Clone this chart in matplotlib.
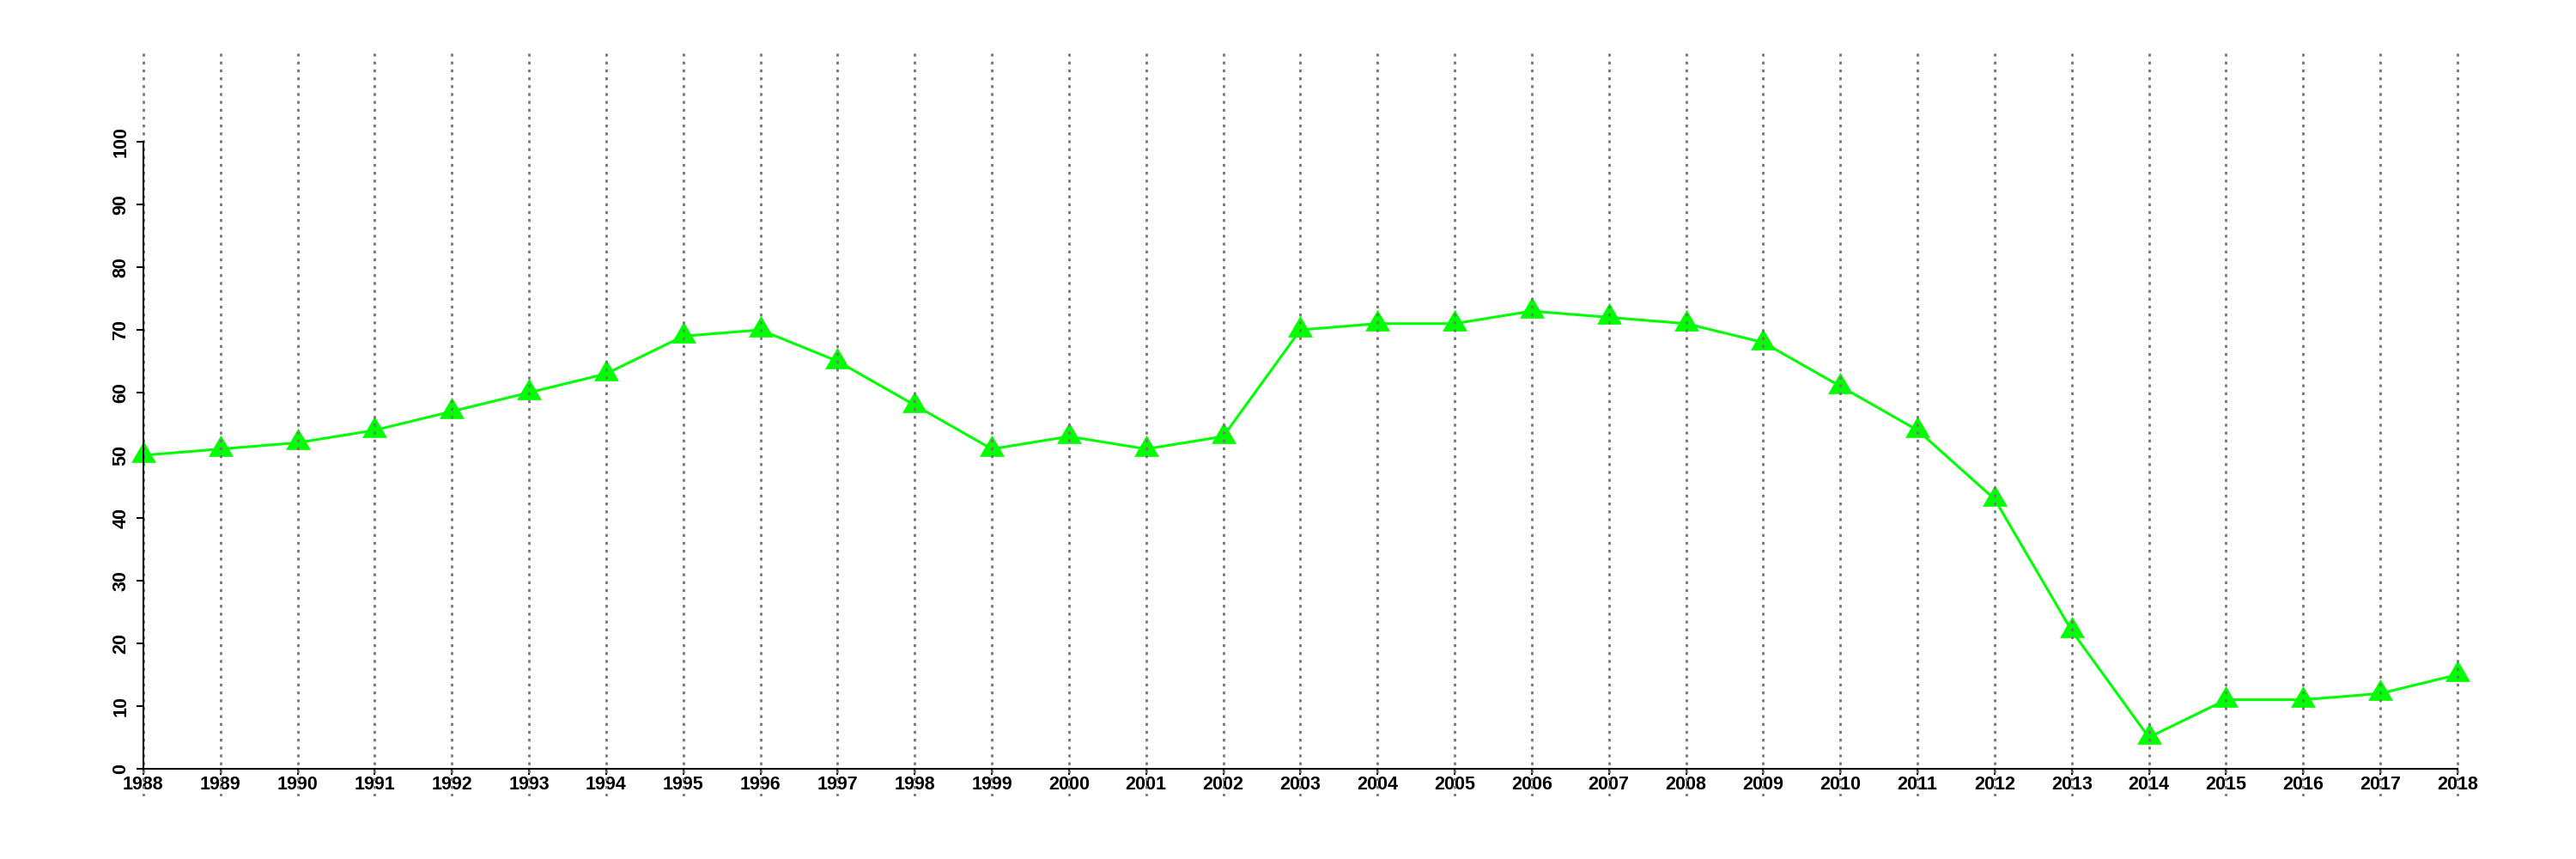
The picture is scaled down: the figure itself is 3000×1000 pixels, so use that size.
import matplotlib
matplotlib.use("Agg")
import matplotlib.pyplot as plt

years = list(range(1988, 2019))
values = [50, 51, 52, 54, 57, 60, 63, 69, 70, 65, 58, 51, 53, 51, 53,
          70, 71, 71, 73, 72, 71, 68, 61, 54, 43, 22, 5, 11, 11, 12, 15]
yticks = [0, 10, 20, 30, 40, 50, 60, 70, 80, 90, 100]

plt.rcParams['font.family'] = ['Liberation Sans', 'DejaVu Sans']

fig = plt.figure(figsize=(30, 10), dpi=100)
ax = fig.add_axes([0.0197, 0.073, 0.9702, 0.867])

x0, x1 = years[0], years[-1]
xr = x1 - x0
ax.set_xlim(x0 - 0.04 * xr, x1 + 0.04 * xr)
ax.set_ylim(-0.04 * 110, 110 + 0.04 * 110)

ax.plot(years, values, color='#00FF00', lw=2.2, marker=(3, 0, 0),
        markersize=24, markerfacecolor='#00FF00', markeredgewidth=0,
        zorder=2, clip_on=False)

for yr in years:
    ax.axvline(yr, color='#777777', lw=2.0, linestyle=(0, (1.2, 2.1)), zorder=3)

for s in ['top', 'right']:
    ax.spines[s].set_visible(False)
ax.spines['bottom'].set_position(('data', 0))
ax.spines['bottom'].set_bounds(x0, x1)
ax.spines['left'].set_position(('data', x0))
ax.spines['left'].set_bounds(0, 100)
for s in ['bottom', 'left']:
    ax.spines[s].set_linewidth(1.5)
    ax.spines[s].set_zorder(4)

ax.set_xticks(years)
ax.set_xticklabels([str(y) for y in years], fontsize=15.5, fontweight='bold')
ax.set_yticks(yticks)
ax.set_yticklabels([str(v) for v in yticks], fontsize=15.5, fontweight='bold',
                   rotation=90, va='center', ha='right')
ax.tick_params(axis='x', length=5, width=1.5, pad=1)
ax.tick_params(axis='y', length=6, width=1.5, pad=5)

fig.savefig('out.png', dpi=100)
